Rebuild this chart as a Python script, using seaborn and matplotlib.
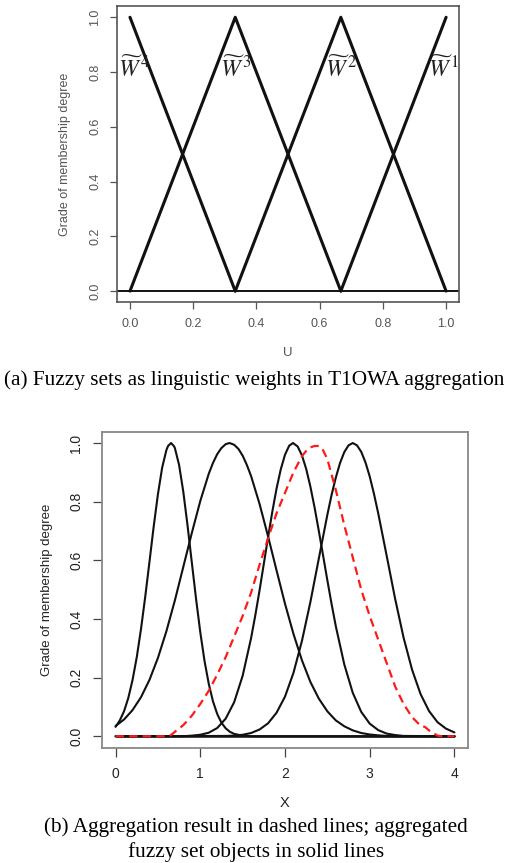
import matplotlib
matplotlib.use('Agg')
import matplotlib.pyplot as plt
import seaborn as sns

# (a) linguistic weights as triangular fuzzy sets on U
w_labels = [r'$\widetilde{W}^{\,4}$', r'$\widetilde{W}^{\,3}$', r'$\widetilde{W}^{\,2}$',
            r'$\widetilde{W}^{\,1}$']
w4_u = [0.0, 0.333]
w4_mu = [1.0, 0.0]
w3_u = [0.0, 0.333, 0.667]
w3_mu = [0.0, 1.0, 0.0]
w2_u = [0.333, 0.667, 1.0]
w2_mu = [0.0, 1.0, 0.0]
w1_u = [0.667, 1.0]
w1_mu = [0.0, 1.0]
u_ticks = [0.0, 0.2, 0.4, 0.6, 0.8, 1.0]

# (b) aggregated fuzzy sets (solid) and aggregation result (dashed)
a_x = [0.0, 0.05, 0.1, 0.15, 0.2, 0.25, 0.3, 0.35, 0.4, 0.45, 0.5, 0.55, 0.6, 0.62, 0.655, 0.69,
       0.7, 0.75, 0.8, 0.85, 0.9, 0.95, 1.0, 1.05, 1.1, 1.15, 1.2, 1.25, 1.3, 1.35, 1.4, 1.5, 1.6,
       4.0]
a_y = [0.032, 0.054, 0.085, 0.130, 0.191, 0.269, 0.365, 0.475, 0.594, 0.715, 0.825, 0.916, 0.976,
       0.990, 1.0, 0.989, 0.983, 0.925, 0.833, 0.718, 0.593, 0.469, 0.355, 0.257, 0.179, 0.119,
       0.076, 0.046, 0.027, 0.015, 0.008, 0.002, 0.0, 0.0]

b_x = [0.0, 0.1, 0.2, 0.3, 0.4, 0.5, 0.6, 0.7, 0.8, 0.9, 1.0, 1.1, 1.15, 1.2, 1.25, 1.3, 1.345,
       1.4, 1.45, 1.5, 1.55, 1.6, 1.7, 1.8, 1.9, 2.0, 2.1, 2.2, 2.3, 2.4, 2.5, 2.6, 2.7, 2.8, 2.9,
       3.0, 3.1, 3.2, 3.3, 4.0]
b_y = [0.035, 0.057, 0.089, 0.133, 0.192, 0.267, 0.358, 0.463, 0.578, 0.693, 0.802, 0.895, 0.932,
       0.962, 0.983, 0.996, 1.0, 0.994, 0.980, 0.957, 0.925, 0.887, 0.792, 0.682, 0.566, 0.452,
       0.349, 0.259, 0.185, 0.128, 0.085, 0.054, 0.034, 0.020, 0.011, 0.006, 0.003, 0.001, 0.0,
       0.0]

c_x = [0.0, 0.8, 0.9, 1.0, 1.1, 1.2, 1.3, 1.4, 1.5, 1.6, 1.65, 1.7, 1.75, 1.8, 1.85, 1.9, 1.95,
       2.0, 2.05, 2.095, 2.15, 2.2, 2.25, 2.3, 2.35, 2.4, 2.45, 2.5, 2.55, 2.6, 2.7, 2.8, 2.9,
       3.0, 3.1, 3.2, 3.3, 3.4, 4.0]
c_y = [0.0, 0.0, 0.002, 0.005, 0.012, 0.028, 0.060, 0.116, 0.206, 0.335, 0.413, 0.498, 0.588,
       0.678, 0.765, 0.844, 0.910, 0.960, 0.991, 1.0, 0.988, 0.958, 0.912, 0.851, 0.779, 0.699,
       0.616, 0.532, 0.451, 0.375, 0.245, 0.148, 0.083, 0.043, 0.021, 0.009, 0.004, 0.001, 0.0]

d_x = [0.0, 1.3, 1.4, 1.5, 1.6, 1.7, 1.8, 1.9, 2.0, 2.1, 2.2, 2.3, 2.4, 2.5, 2.55, 2.6, 2.65,
       2.7, 2.75, 2.8, 2.85, 2.9, 2.95, 3.0, 3.05, 3.1, 3.2, 3.3, 3.4, 3.5, 3.6, 3.7, 3.8, 3.9, 4.0]
d_y = [0.0, 0.001, 0.002, 0.005, 0.011, 0.023, 0.044, 0.080, 0.135, 0.216, 0.325, 0.458, 0.607,
       0.755, 0.823, 0.882, 0.932, 0.969, 0.992, 1.0, 0.992, 0.970, 0.934, 0.886, 0.827, 0.761,
       0.616, 0.469, 0.336, 0.227, 0.144, 0.086, 0.048, 0.026, 0.013]

agg_x = [0.0, 0.6, 0.65, 0.7, 0.8, 0.9, 1.0, 1.1, 1.2, 1.3, 1.4, 1.5, 1.6, 1.7, 1.8, 1.9, 2.0, 2.1,
         2.2, 2.25, 2.3, 2.35, 2.4, 2.45, 2.5, 2.6, 2.7, 2.8, 2.9, 3.0, 3.1, 3.2, 3.3, 3.4, 3.5,
         3.6, 3.65, 3.7, 3.8, 3.85, 4.0]
agg_y = [0.0, 0.0, 0.003, 0.015, 0.038, 0.07, 0.11, 0.155, 0.21, 0.27, 0.34, 0.41, 0.49, 0.585,
         0.675, 0.76, 0.83, 0.90, 0.955, 0.973, 0.985, 0.99, 0.99, 0.975, 0.945, 0.84, 0.72, 0.61,
         0.50, 0.41, 0.33, 0.25, 0.17, 0.11, 0.065, 0.036, 0.032, 0.02, 0.002, 0.0, 0.0]
zero_x = [0.0, 4.0]
zero_y = [0.0, 0.0]
x_ticks = [0, 1, 2, 3, 4]
mu_ticks = [0.0, 0.2, 0.4, 0.6, 0.8, 1.0]

sns.set_style('ticks')
plt.rcParams['font.family'] = ['Liberation Sans', 'DejaVu Sans']
plt.rcParams['mathtext.fontset'] = 'stix'

fig = plt.figure(figsize=(5.09, 8.63), dpi=100)

# ---- panel (a)
ax1 = fig.add_axes([0.2299, 0.650, 0.672, 0.343])
for uu, mm in [(w4_u, w4_mu), (w3_u, w3_mu), (w2_u, w2_mu), (w1_u, w1_mu)]:
    sns.lineplot(x=uu, y=mm, ax=ax1, color='#111111', lw=2.2, sort=False, estimator=None)
ax1.axhline(0, color='#111111', lw=1.4)
for lab, xp in zip(w_labels, [0.012, 0.333, 0.667, 0.99]):
    ax1.text(xp, 0.81, lab, ha='center', va='center', fontsize=17, color='#222222')
ax1.set_xlim(-0.041, 1.041)
ax1.set_ylim(-0.04, 1.041)
ax1.set_xticks(u_ticks)
ax1.set_yticks(mu_ticks)
ax1.set_xticklabels([f'{v:.1f}' for v in u_ticks])
ax1.set_yticklabels([f'{v:.1f}' for v in mu_ticks], rotation=90, va='center')
ax1.tick_params(direction='out', length=5, width=0.9, pad=6.5, labelsize=9,
                colors='#555555', labelcolor='#555555')
for s in ax1.spines.values():
    s.set_visible(True)
    s.set_color('#555555')
    s.set_linewidth(1.2)
ax1.set_xlabel('U', fontsize=9.5, color='#555555')
ax1.set_ylabel('Grade of membership degree', fontsize=9, color='#555555')
ax1.xaxis.set_label_coords(0.5, -0.172)
ax1.xaxis.label.set_va('center')
ax1.yaxis.set_label_coords(-0.152, 0.5)
ax1.yaxis.label.set_va('center')

fig.text(0.5, 1 - 380 / 863, '(a) Fuzzy sets as linguistic weights in T1OWA aggregation',
         ha='center', va='center', fontsize=15.3, family='Liberation Serif', color='black')

# ---- panel (b)
ax2 = fig.add_axes([0.2004, 0.1333, 0.719, 0.3661])
sns.lineplot(x=zero_x, y=zero_y, ax=ax2, color='#111111', lw=1.8, sort=False, estimator=None)
for xx, yy in [(a_x, a_y), (b_x, b_y), (c_x, c_y), (d_x, d_y)]:
    sns.lineplot(x=xx, y=yy, ax=ax2, color='#111111', lw=1.5, sort=False, estimator=None,
                 solid_joinstyle='round')
sns.lineplot(x=agg_x, y=agg_y, ax=ax2, color='#ff1a1a', lw=1.6, sort=False, estimator=None)
ax2.lines[-1].set_dashes((3.8, 2.3))
ax2.set_xlim(-0.16, 4.16)
ax2.set_ylim(-0.04, 1.0375)
ax2.set_xticks(x_ticks)
ax2.set_yticks(mu_ticks)
ax2.set_xticklabels([str(v) for v in x_ticks])
ax2.set_yticklabels([f'{v:.1f}' for v in mu_ticks], rotation=90, va='center')
ax2.tick_params(direction='out', length=6.5, width=0.9, pad=7, labelsize=10,
                colors='#444444', labelcolor='#222222')
for s in ax2.spines.values():
    s.set_visible(True)
    s.set_color('#888888')
    s.set_linewidth(1.3)
ax2.set_xlabel('X', fontsize=10.5, color='#222222')
ax2.set_ylabel('Grade of membership degree', fontsize=9.5, color='#222222')
ax2.xaxis.set_label_coords(0.5, -0.174)
ax2.xaxis.label.set_va('center')
ax2.yaxis.set_label_coords(-0.150, 0.5)
ax2.yaxis.label.set_va('center')

fig.text(0.503, 1 - 827 / 863, '(b) Aggregation result in dashed lines; aggregated',
         ha='center', va='center', fontsize=15.3, family='Liberation Serif', color='black')
fig.text(0.503, 1 - 852 / 863, 'fuzzy set objects in solid lines',
         ha='center', va='center', fontsize=15.3, family='Liberation Serif', color='black')

fig.savefig('out.png', dpi=100)
